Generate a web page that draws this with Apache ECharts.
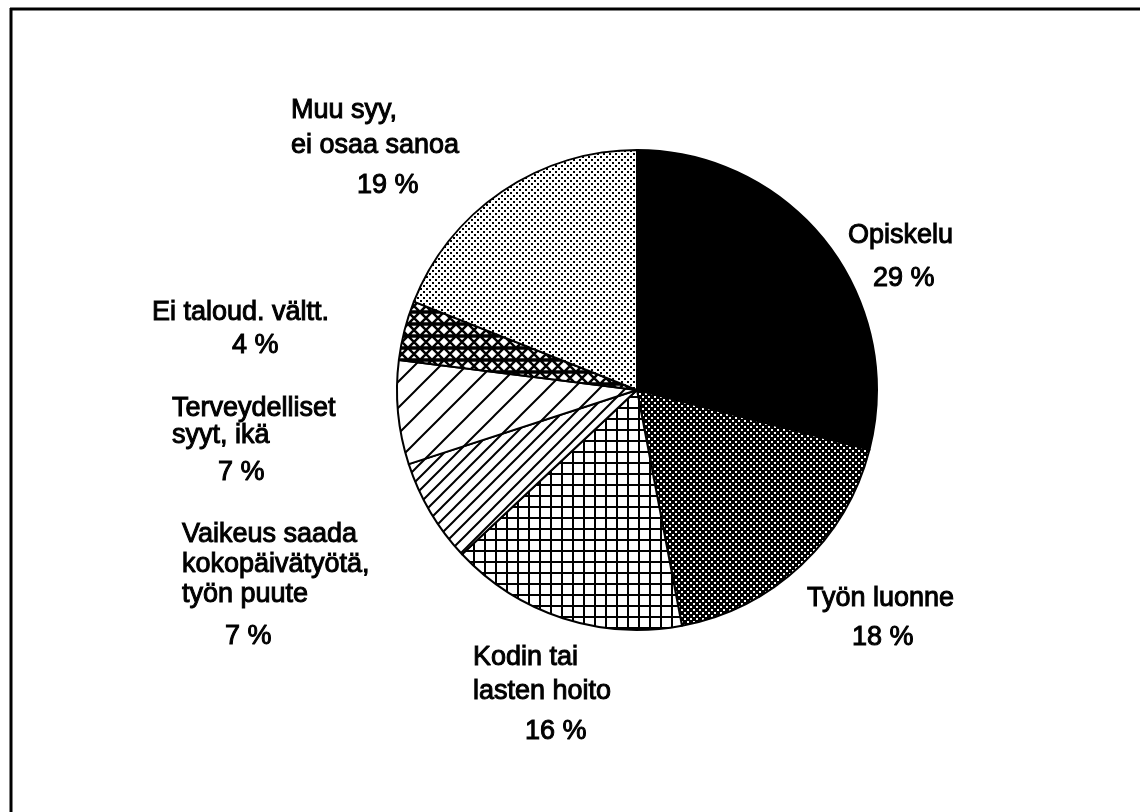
<!DOCTYPE html>
<html>
<head>
<meta charset="utf-8">
<script src="https://cdn.jsdelivr.net/npm/echarts@6/dist/echarts.min.js"></script>
<style>
html, body { margin: 0; padding: 0; background: #fff; }
#main { width: 1140px; height: 812px; }
</style>
</head>
<body>
<div id="main"></div>
<script>
var categories = ['Opiskelu', 'Työn luonne', 'Kodin tai\nlasten hoito', 'Vaikeus saada\nkokopäivätyötä,\ntyön puute', 'Terveydelliset\nsyyt, ikä', 'Ei taloud. vältt.', 'Muu syy,\nei osaa sanoa'];
var shares = [29, 18, 16, 7, 7, 4, 19];

// label placement: left x, first line centre y, line step, step to the % line, % indent
var labelPos = [
    [848, 236, 30, 43, 25],
    [807, 599, 30, 39, 45],
    [473, 658, 34, 40, 52],
    [182, 535, 30, 42, 43],
    [172, 409, 27, 37, 46],
    [152, 313, 30, 33, 80],
    [291, 111, 35, 40, 66]
];

var FONT = "'Liberation Sans', Arial, sans-serif";

function makeTile(w, h, bg, draw) {
    var c = document.createElement('canvas');
    c.width = w;
    c.height = h;
    var ctx = c.getContext('2d');
    ctx.fillStyle = bg;
    ctx.fillRect(0, 0, w, h);
    ctx.fillStyle = '#000';
    ctx.strokeStyle = '#000';
    draw(ctx, w, h);
    return { image: c, repeat: 'repeat' };
}

function slashes(s, lw) {
    return makeTile(s, s, '#fff', function (ctx) {
        ctx.lineWidth = lw;
        ctx.beginPath();
        ctx.moveTo(-2, s + 2); ctx.lineTo(s + 2, -2);
        ctx.moveTo(-2, 2); ctx.lineTo(2, -2);
        ctx.moveTo(s - 2, s + 2); ctx.lineTo(s + 2, s - 2);
        ctx.stroke();
    });
}

// dot lattice: dots of size d on a diagonal grid of pitch s
function dots(s, d, bg, fg) {
    return makeTile(s, s, bg, function (ctx) {
        ctx.fillStyle = fg;
        ctx.fillRect(0, 0, d, d);
        ctx.fillRect(s / 2, s / 2, d, d);
    });
}

var fills = [
    '#000',
    dots(6, 2, '#000', '#fff'),
    makeTile(11, 11, '#fff', function (ctx) {
        ctx.fillRect(0, 0, 11, 2);
        ctx.fillRect(0, 0, 2, 11);
    }),
    slashes(13, 2),
    slashes(26, 2),
    makeTile(12, 12, '#fff', function (ctx) {
        ctx.lineWidth = 2.5;
        ctx.beginPath();
        ctx.moveTo(-1, -1); ctx.lineTo(13, 13);
        ctx.moveTo(-1, 13); ctx.lineTo(13, -1);
        ctx.moveTo(0, 0.5); ctx.lineTo(12, 0.5);
        ctx.moveTo(0, 11.5); ctx.lineTo(12, 11.5);
        ctx.stroke();
    }),
    dots(6, 2, '#fff', '#000')
];

var pieData = [];
for (var i = 0; i < categories.length; i++) {
    var p = labelPos[i];
    pieData.push({
        name: categories[i],
        value: shares[i],
        itemStyle: { color: fills[i] },
        label: {
            rich: {
                n: { fontSize: 27, fontFamily: FONT, color: '#000', lineHeight: p[2],
                     textBorderColor: '#000', textBorderWidth: 1 },
                v: { fontSize: 27, fontFamily: FONT, color: '#000', lineHeight: 2 * p[3] - p[2],
                     padding: [0, 0, 0, p[4]], textBorderColor: '#000', textBorderWidth: 1 }
            }
        }
    });
}

var myChart = echarts.init(document.getElementById('main'));

var option = {
    backgroundColor: '#fff',
    animation: false,
    graphic: [
        { type: 'line', shape: { x1: 10, y1: 9, x2: 1140, y2: 9 }, style: { stroke: '#000', lineWidth: 3 } },
        { type: 'line', shape: { x1: 11, y1: 8, x2: 11, y2: 812 }, style: { stroke: '#000', lineWidth: 3 } }
    ],
    series: [{
        type: 'pie',
        center: [637, 390],
        radius: 240,
        startAngle: 90,
        clockwise: true,
        avoidLabelOverlap: false,
        emphasis: { disabled: true },
        itemStyle: { borderColor: '#000', borderWidth: 2 },
        label: {
            show: true,
            position: 'outside',
            formatter: function (params) {
                var lines = params.name.split('\n').map(function (l) { return '{n|' + l + '}'; });
                return lines.join('\n') + '\n{v|' + params.value + ' %}';
            }
        },
        labelLine: { show: false },
        labelLayout: function (params) {
            var p = labelPos[params.dataIndex];
            return { x: p[0], y: p[1] - p[2] / 2, align: 'left', verticalAlign: 'top' };
        },
        data: pieData
    }]
};

myChart.setOption(option);
</script>
</body>
</html>
